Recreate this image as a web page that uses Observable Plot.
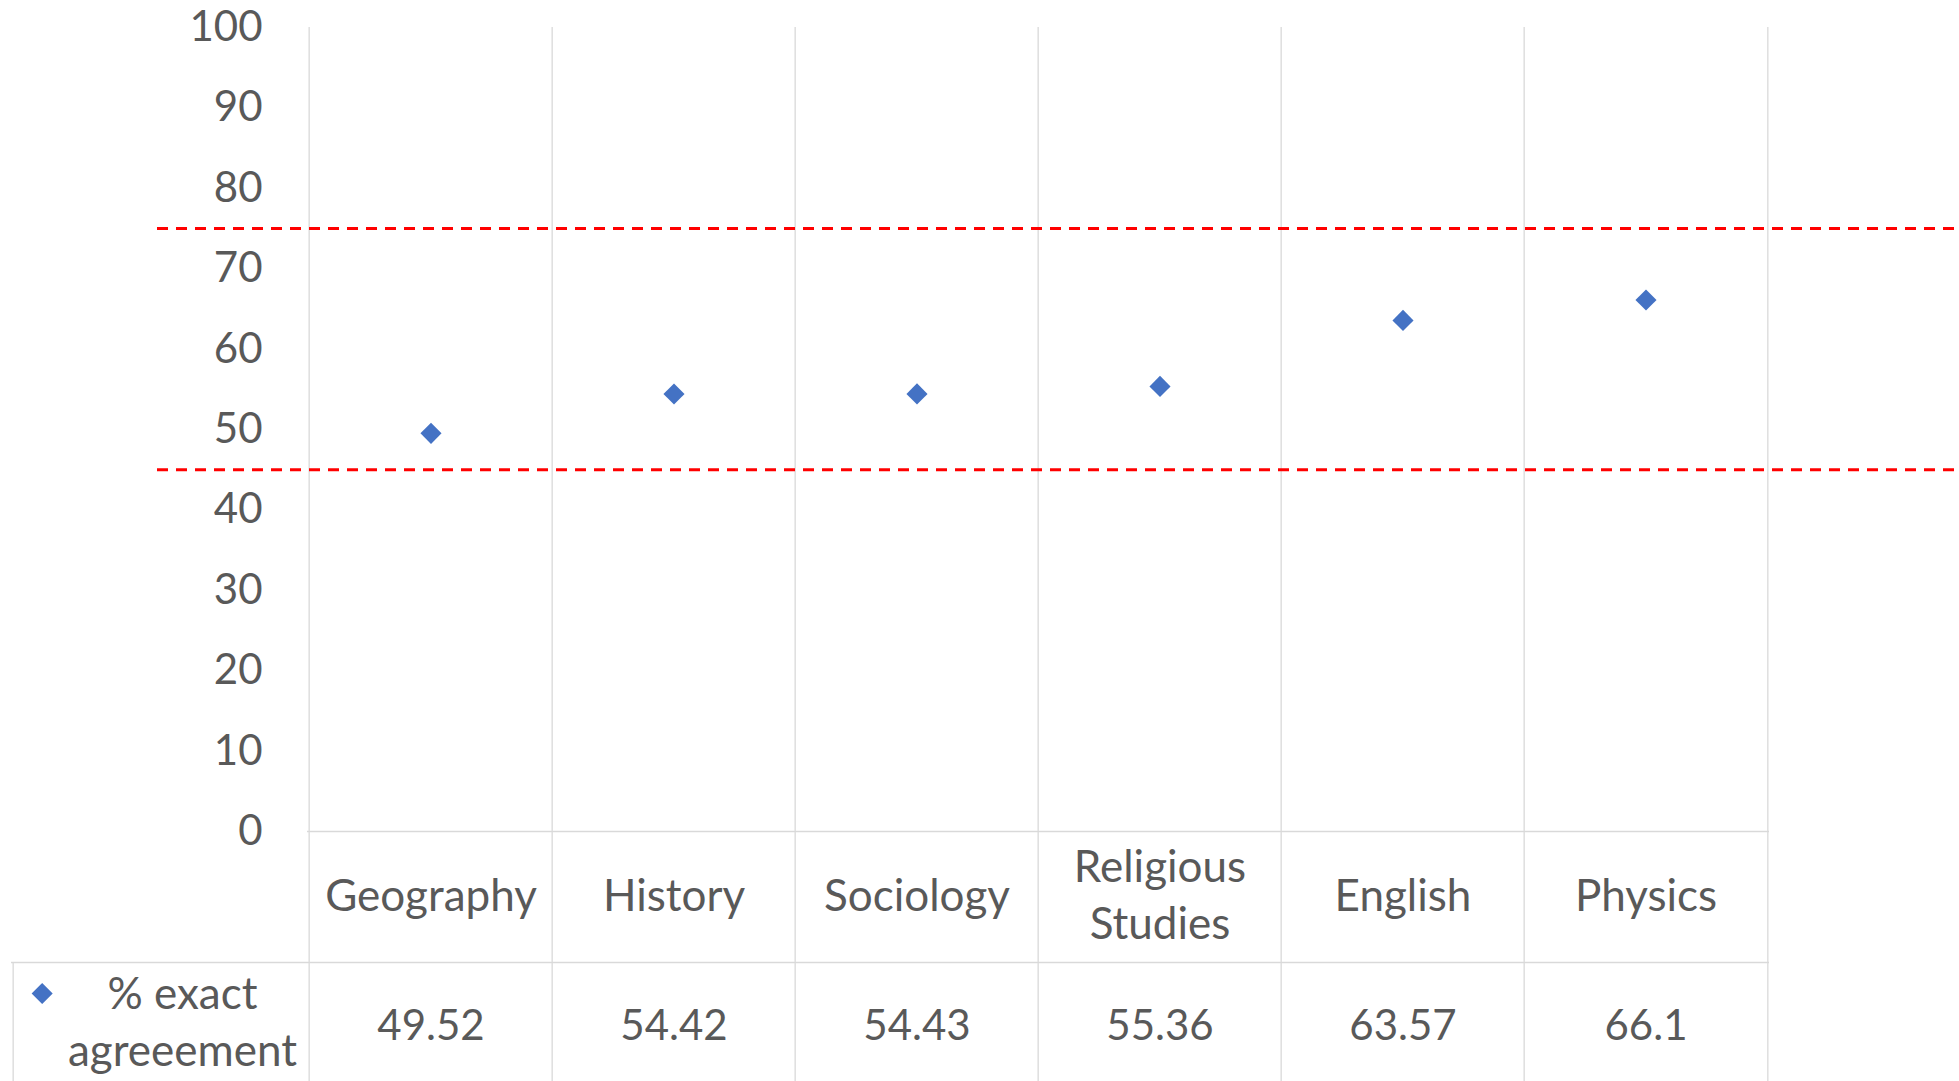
<!DOCTYPE html>
<html><head><meta charset="utf-8">
<script src="https://cdn.jsdelivr.net/npm/d3@7"></script>
<script src="https://cdn.jsdelivr.net/npm/@observablehq/plot@0.6"></script>
<style>html,body{margin:0;padding:0;background:#fff;overflow:hidden}</style>
</head><body><div id="chart"></div>
<script>
const subjects = ["Geography", "History", "Sociology", "Religious Studies", "English", "Physics"];
const subjectLabels = ["Geography", "History", "Sociology", "Religious\nStudies", "English", "Physics"];
const exactAgreement = [49.52, 54.42, 54.43, 55.36, 63.57, 66.1];
const valueLabels = ["49.52", "54.42", "54.43", "55.36", "63.57", "66.1"];
const seriesName = "% exact\nagreeement";
const yTicks = [0, 10, 20, 30, 40, 50, 60, 70, 80, 90, 100];
const referenceLines = [45, 75];

const data = subjects.map((s, i) => ({subject: s, label: subjectLabels[i], value: exactAgreement[i], text: valueLabels[i]}));

const W = 1959, H = 1081, mL = 307, mR = 190, mT = 27, mB = 250;
const bw = (W - mL - mR) / subjects.length;
const frameH = H - mT - mB;
const grid = "#d9d9d9", ink = "#595959", blue = "#4472c4";
const numFont = 42, wordFont = 44;

const chart = Plot.plot({
  width: W, height: H,
  marginLeft: mL, marginRight: mR, marginTop: mT, marginBottom: mB,
  style: {fontFamily: "Lato, sans-serif", fontSize: numFont + "px", color: ink, background: "#fff"},
  x: {type: "band", domain: subjects, padding: 0, axis: null},
  y: {domain: [0, 100]},
  marks: [
    Plot.axisY(yTicks, {tickSize: 0, tickPadding: 45, fontSize: numFont, fill: ink, label: null}),
    // vertical grid / table lines
    Plot.ruleX(subjects, {x: d => d, dx: -bw / 2, stroke: grid, strokeWidth: 1.3, insetBottom: -mB}),
    Plot.ruleX([subjects[subjects.length - 1]], {x: d => d, dx: bw / 2, stroke: grid, strokeWidth: 1.3, insetBottom: -mB}),
    // axis line and table row separator
    Plot.ruleY([0], {stroke: grid, strokeWidth: 1.3}),
    Plot.ruleY([0], {stroke: grid, strokeWidth: 1.3, dy: 131, insetLeft: -(mL - 11)}),
    // legend cell left border
    Plot.ruleX([subjects[0]], {x: d => d, dx: -bw / 2 - (mL - 11), stroke: grid, strokeWidth: 1.3, insetTop: frameH + 131, insetBottom: -mB}),
    // reference lines
    Plot.ruleY(referenceLines, {stroke: "#ff0000", strokeWidth: 3, strokeDasharray: "11,8", insetLeft: -(mL - 157), insetRight: -mR}),
    // points
    Plot.dot(data, {x: "subject", y: "value", symbol: "diamond2", r: 9.5, fill: blue, stroke: null}),
    // category row
    Plot.text(data, {x: "subject", text: "label", frameAnchor: "bottom", dy: 61, lineAnchor: "middle", lineHeight: 1.3, fill: ink, fontSize: wordFont}),
    // value row
    Plot.text(data, {x: "subject", text: "text", frameAnchor: "bottom", dy: 195, lineAnchor: "middle", fill: ink, fontSize: numFont}),
    // legend key
    Plot.dot([seriesName], {x: () => subjects[0], y: () => 0, dx: 40 - (mL + bw / 2), dy: 162, symbol: "diamond2", r: 9.5, fill: blue, stroke: null}),
    Plot.text([seriesName], {frameAnchor: "bottom-left", dx: 182 - mL, dy: 188, text: d => d, textAnchor: "middle", lineAnchor: "middle", lineHeight: 1.3, fill: ink, fontSize: wordFont})
  ]
});
document.getElementById("chart").appendChild(chart);
</script>
</body></html>
